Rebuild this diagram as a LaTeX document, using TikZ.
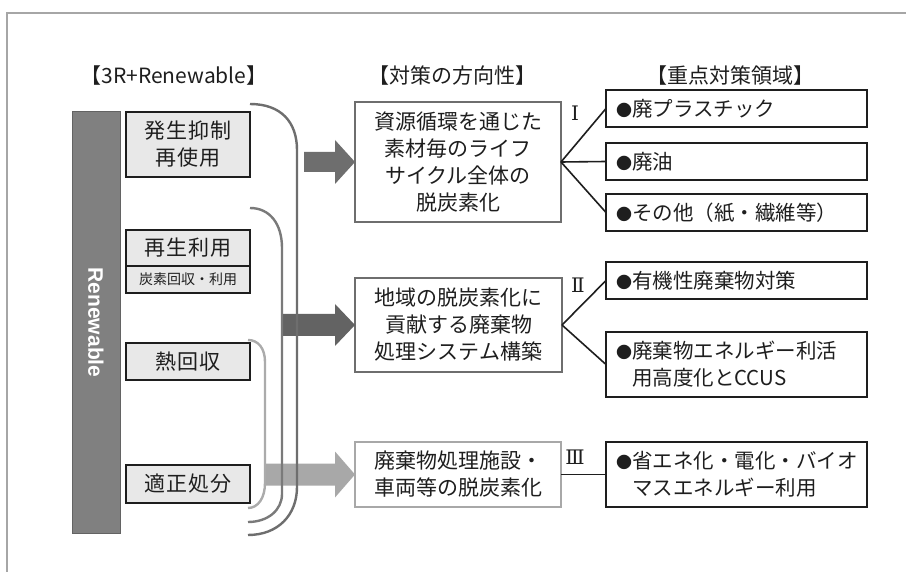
\documentclass[tikz,border=0pt]{standalone}
\usepackage{fontspec}
\setmainfont{Noto Sans CJK JP}
\newfontfamily\latinbold{Liberation Sans}
\newfontfamily\romfont{DejaVu Serif}
\newfontfamily\spaced{Noto Sans CJK JP}[LetterSpace=6]
\usetikzlibrary{calc}
\definecolor{txt}{HTML}{1E1E1E}
\definecolor{arrA}{HTML}{6E6E6E}
\definecolor{arrB}{HTML}{636363}
\definecolor{arrC}{HTML}{A8A8A8}
\definecolor{crvA}{HTML}{6E6E6E}
\definecolor{crvB}{HTML}{7A7A7A}
\definecolor{crvC}{HTML}{ABABAB}
\definecolor{barfill}{HTML}{808080}
\definecolor{boxfill}{HTML}{E8E8E8}
\definecolor{frame}{HTML}{A6A6A6}
\newcommand{\bul}{{\fontsize{16}{16}\selectfont ●}}
\newcommand{\bulgap}{\phantom{\bul}}
\begin{document}
\begin{tikzpicture}[x=1pt,y=-1pt,
  every node/.style={inner sep=0pt, outer sep=0pt, text=txt},
  hdr/.style={font=\fontsize{21}{25}\selectfont},
  lbox/.style={draw=txt, line width=1.8pt, fill=boxfill, minimum width=124pt,
    font=\spaced\fontsize{21}{27}\selectfont, align=center},
  mbox/.style={draw=arrA, line width=1.8pt, fill=white, minimum width=206pt,
    font=\fontsize{21}{27}\selectfont, align=center},
  rbox/.style={draw=txt, line width=1.8pt, fill=white, anchor=west,
    minimum width=261pt, inner xsep=10pt, text width=241pt, align=left,
    font=\fontsize{20.5}{27}\selectfont},
  numlab/.style={font=\romfont\fontsize{20}{20}\selectfont},
  conn/.style={draw=txt, line width=1.6pt},
  crv/.style={line width=2.4pt},
]
\useasboundingbox (0,0) rectangle (906,572);
\fill[white] (0,0) rectangle (906,572);
% frame
\draw[frame, line width=1.5pt] (906,13) -- (7,13) -- (7,572);

% headers
\node[hdr] (h1) at (174,76) {【3R+Renewable】};
\node[hdr] (h2) at (452,76) {【対策の方向性】};
\node[hdr] (h3) at (730,76) {【重点対策領域】};

% Renewable bar
\node[draw=arrB, line width=1pt, fill=barfill, minimum width=48pt, minimum height=421pt]
  (bar) at (96,322.5) {};
\node[rotate=-90, text=white, font=\latinbold\bfseries\fontsize{21}{21}\selectfont]
  (barlab) at (bar.center) {Renewable};

% left boxes
\node[lbox, minimum height=65pt] (lb1) at (188,144.5) {発生抑制\\再使用};
\node[lbox, minimum height=36pt] (lb2) at (188,248) {再生利用};
\node[lbox, minimum height=27pt, font=\fontsize{14}{16}\selectfont] (lb3) at (188,279.5) {炭素回収・利用};
\node[lbox, minimum height=37pt] (lb4) at (188,361.5) {熱回収};
\node[lbox, minimum height=38pt] (lb5) at (188,484) {適正処分};

% middle boxes
\node[mbox, minimum height=120pt] (m1) at (458,162)
  {資源循環を通じた\\素材毎のライフ\\サイクル全体の\\脱炭素化};
\node[mbox, minimum height=94pt, minimum width=207pt] (m2) at (458.5,325)
  {地域の脱炭素化に\\貢献する廃棄物\\処理システム構築};
\node[mbox, draw=arrC, minimum height=65pt] (m3) at (458,474.5)
  {廃棄物処理施設・\\車両等の脱炭素化};

% block arrows
\fill[arrA] (m1.west) -- ++(-20,-22) -- ++(0,12) -- ++(-31,0) -- ++(0,20)
  -- ++(31,0) -- ++(0,12) -- cycle;
\fill[arrB] (m2.west) -- ++(-20,-21) -- ++(0,10) -- ++(-52,0) -- ++(0,22)
  -- ++(52,0) -- ++(0,10) -- cycle;
\fill[arrC] (m3.west) -- ++(-20,-23) -- ++(0,12) -- ++(-69,0) -- ++(0,22)
  -- ++(69,0) -- ++(0,12) -- cycle;

% brackets
\draw[crv, crvA] (250,104) .. controls (281,104) and (297,122) .. (297,150)
  -- (297,487) .. controls (297,515) and (278,535) .. (248,535);
\draw[crv, crvB] (250,208) .. controls (270,208) and (282,224) .. (282,248)
  -- (282,494) .. controls (282,510) and (268,522) .. (248,522);
\draw[crv, crvC] (248,340) .. controls (258,340) and (265,348) .. (265,362)
  -- (265,483) .. controls (265,498) and (258,508) .. (248,508);

% right boxes
\node[rbox, minimum height=37pt] (r1) at (606,108.5) {\bul 廃プラスチック};
\node[rbox, minimum height=37pt] (r2) at (606,161.5) {\bul 廃油};
\node[rbox, minimum height=37pt] (r3) at (606,212.5) {\bul その他（紙・繊維等）};
\node[rbox, minimum height=37pt] (r4) at (606,280.5) {\bul 有機性廃棄物対策};
\node[rbox, minimum height=65pt] (r5) at (606,364.5)
  {\bul 廃棄物エネルギー利活\\\bulgap 用高度化とCCUS};
\node[rbox, minimum height=65pt] (r6) at (606,474.5)
  {\bul 省エネ化・電化・バイオ\\\bulgap マスエネルギー利用};

% roman numerals
\node[numlab] (n1) at (575,113) {Ⅰ};
\node[numlab] (n2) at (578,285) {Ⅱ};
\node[numlab] (n3) at (575,457) {Ⅲ};

% connectors
\draw[conn] (m1.east) -- (r1.west);
\draw[conn] (m1.east) -- (r2.west);
\draw[conn] (m1.east) -- (r3.west);
\draw[conn] (m2.east) -- (r4.west);
\draw[conn] (m2.east) -- (r5.west);
\draw[conn] (m3.east) -- (r6.west);
\end{tikzpicture}
\end{document}
